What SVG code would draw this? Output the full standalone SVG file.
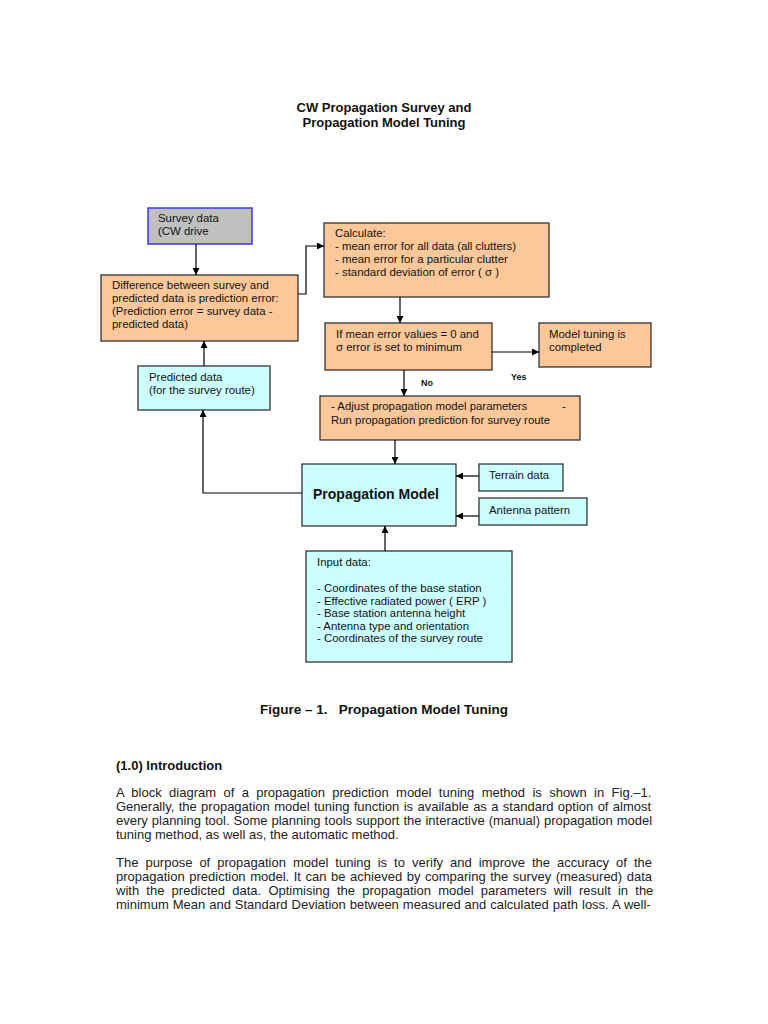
<svg xmlns="http://www.w3.org/2000/svg" width="768" height="1024" viewBox="0 0 768 1024">
<defs>
<marker id="ah" viewBox="0 0 10 10" refX="10" refY="5" markerWidth="7" markerHeight="7" orient="auto" markerUnits="userSpaceOnUse"><path d="M0,0 L10,5 L0,10 z" fill="#000"/></marker>
<style>
text{font-family:"Liberation Sans",Arial,sans-serif;fill:#111}
.t{font-size:11.4px}
.b{font-weight:bold}
.p{font-size:13px;fill:#222}
.peach{fill:#fcc899;stroke:#333;stroke-width:1.3}
.cyan{fill:#ccffff;stroke:#333;stroke-width:1.3}
.gray{fill:#c0c0c0;stroke:#3838e0;stroke-width:1.5}
.c{fill:none;stroke:#000;stroke-width:1.2}
</style>
</defs>
<rect width="768" height="1024" fill="#fff"/>
<text class="b" x="384" y="112" font-size="13" text-anchor="middle">CW Propagation Survey and</text>
<text class="b" x="384" y="127" font-size="13" text-anchor="middle">Propagation Model Tuning</text>

<g id="survey"><rect class="gray" x="148" y="208" width="104" height="36"/><text class="t" x="158" y="222">Survey data</text><text class="t" x="158" y="235">(CW drive</text></g>
<g id="difference"><rect class="peach" x="101" y="275" width="197" height="66"/><text class="t" x="112" y="289">Difference between survey and</text><text class="t" x="112" y="302">predicted data is prediction error:</text><text class="t" x="112" y="315">(Prediction error = survey data -</text><text class="t" x="112" y="328">predicted data)</text></g>
<g id="calculate"><rect class="peach" x="324" y="223" width="225" height="74"/><text class="t" x="335" y="237">Calculate:</text><text class="t" x="335" y="250">- mean error for all data (all clutters)</text><text class="t" x="335" y="263">- mean error for a particular clutter</text><text class="t" x="335" y="276">- standard deviation of error ( σ )</text></g>
<g id="condition"><rect class="peach" x="325" y="323" width="167" height="47"/><text class="t" x="336" y="338">If mean error values = 0 and</text><text class="t" x="336" y="351">σ error is set to minimum</text></g>
<g id="completed"><rect class="peach" x="539" y="323" width="112" height="44"/><text class="t" x="549" y="338">Model tuning is</text><text class="t" x="549" y="351">completed</text></g>
<g id="adjust"><rect class="peach" x="320" y="396" width="260" height="44"/><text class="t" x="331" y="410">- Adjust propagation model parameters</text><text class="t" x="562" y="410">-</text><text class="t" x="331" y="424">Run propagation prediction for survey route</text></g>
<g id="predicted"><rect class="cyan" x="138" y="366" width="132" height="44"/><text class="t" x="149" y="381">Predicted data</text><text class="t" x="149" y="394">(for the survey route)</text></g>
<g id="model"><rect class="cyan" x="302" y="464" width="154" height="62"/><text class="b" x="376" y="499" font-size="14" text-anchor="middle">Propagation Model</text></g>
<g id="terrain"><rect class="cyan" x="479" y="464" width="84" height="27"/><text class="t" x="489" y="479">Terrain data</text></g>
<g id="antenna"><rect class="cyan" x="479" y="498" width="108" height="27"/><text class="t" x="489" y="514">Antenna pattern</text></g>
<g id="input"><rect class="cyan" x="306" y="551" width="206" height="111"/><text class="t" x="317" y="566">Input data:</text><text class="t" x="317" y="592">- Coordinates of the base station</text><text class="t" x="317" y="605">- Effective radiated power  ( ERP )</text><text class="t" x="317" y="617">- Base station antenna height</text><text class="t" x="317" y="630">- Antenna type and orientation</text><text class="t" x="317" y="642">- Coordinates of the survey route</text></g>

<g id="connectors">
<path class="c" d="M196,244 V275" marker-end="url(#ah)"/>
<path class="c" d="M298,294 H306 V246 H324" marker-end="url(#ah)"/>
<path class="c" d="M400,297 V323" marker-end="url(#ah)"/>
<path class="c" d="M492,352 H539" marker-end="url(#ah)"/>
<path class="c" d="M404,370 V396" marker-end="url(#ah)"/>
<path class="c" d="M395,440 V464" marker-end="url(#ah)"/>
<path class="c" d="M479,476 H456" marker-end="url(#ah)"/>
<path class="c" d="M479,516 H456" marker-end="url(#ah)"/>
<path class="c" d="M385,551 V526" marker-end="url(#ah)"/>
<path class="c" d="M302,493 H203 V410" marker-end="url(#ah)"/>
<path class="c" d="M204,366 V341" marker-end="url(#ah)"/>
<text class="b" x="421" y="386" font-size="9">No</text>
<text class="b" x="511" y="380" font-size="9">Yes</text>
</g>

<text class="b" x="384" y="714" font-size="13.5" text-anchor="middle" xml:space="preserve">Figure – 1.   Propagation Model Tuning</text>
<text class="b" x="116" y="770" font-size="13">(1.0) Introduction</text>
<text class="p" x="116" y="797" word-spacing="3.77">A block diagram of a propagation prediction model tuning method is shown in Fig.–1.</text>
<text class="p" x="116" y="811" word-spacing="0.77">Generally, the propagation model tuning function is available as a standard option of almost</text>
<text class="p" x="116" y="825" word-spacing="0.38">every planning tool. Some planning tools support the interactive (manual) propagation model</text>
<text class="p" x="116" y="839">tuning method, as well as, the automatic method.</text>
<text class="p" x="116" y="867" word-spacing="3.39">The purpose of propagation model tuning is to verify and improve the accuracy of the</text>
<text class="p" x="116" y="881" word-spacing="0.95">propagation prediction model. It can be achieved by comparing the survey (measured) data</text>
<text class="p" x="116" y="895" word-spacing="3.59">with the predicted data. Optimising the propagation model parameters will result in the</text>
<text class="p" x="116" y="909" word-spacing="0.35">minimum Mean and Standard Deviation between measured and calculated path loss. A well-</text>
</svg>
